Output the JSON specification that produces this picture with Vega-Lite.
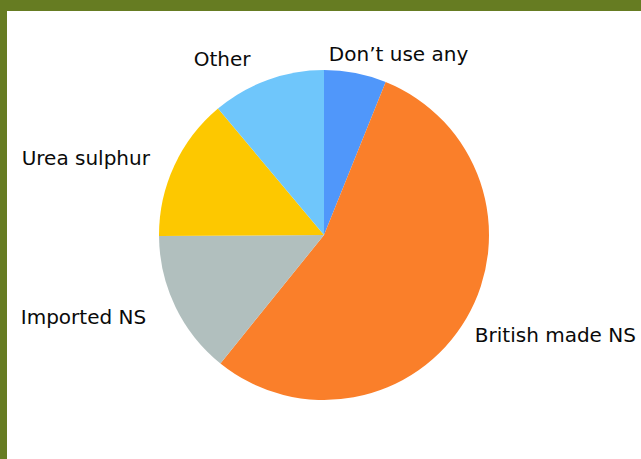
{
  "$schema": "https://vega.github.io/schema/vega-lite/v6.json",
  "width": 641,
  "height": 459,
  "autosize": {"type": "fit", "contains": "padding"},
  "padding": {"top": 11, "left": 7, "right": 0, "bottom": 0},
  "background": "#667c22",
  "config": {"view": {"stroke": null}},
  "layer": [
    {
      "data": {"values": [{"panel": "background"}]},
      "mark": {"type": "rect", "color": "white", "opacity": 1},
      "encoding": {}
    },
    {
      "data": {
        "values": [
          {"cat": "Don’t use any", "share": 6.1, "k": 1},
          {"cat": "British made NS", "share": 54.7, "k": 2},
          {"cat": "Imported NS", "share": 14.1, "k": 3},
          {"cat": "Urea sulphur", "share": 14.0, "k": 4},
          {"cat": "Other", "share": 11.1, "k": 5}
        ]
      },
      "encoding": {
        "theta": {"field": "share", "type": "quantitative", "stack": true},
        "order": {"field": "k", "type": "quantitative"}
      },
      "layer": [
        {
          "mark": {"type": "arc", "radius": 165},
          "encoding": {
            "color": {
              "field": "cat",
              "type": "nominal",
              "scale": {
                "domain": ["Don’t use any", "British made NS", "Imported NS", "Urea sulphur", "Other"],
                "range": ["#5097fa", "#fa7f2a", "#b1bfbe", "#fdc800", "#6fc6fb"]
              },
              "legend": null
            }
          }
        },
        {
          "mark": {"type": "text", "radius": 183, "align": "right", "baseline": "middle", "dx": -8, "dy": 1, "font": "DejaVu Sans", "fontSize": 20, "color": "#0a0a0a"},
          "encoding": {
            "detail": {"field": "cat", "type": "nominal"},
            "text": {"condition": {"test": "datum.cat === 'Urea sulphur'", "field": "cat"}, "value": ""}
          }
        },
        {
          "mark": {"type": "text", "radius": 183, "align": "right", "baseline": "middle", "dx": -13, "dy": 4, "font": "DejaVu Sans", "fontSize": 20, "color": "#0a0a0a"},
          "encoding": {
            "detail": {"field": "cat", "type": "nominal"},
            "text": {"condition": {"test": "datum.cat === 'Imported NS'", "field": "cat"}, "value": ""}
          }
        },
        {
          "mark": {"type": "text", "radius": 183, "align": "right", "baseline": "middle", "dx": -11, "dy": -3, "font": "DejaVu Sans", "fontSize": 20, "color": "#0a0a0a"},
          "encoding": {
            "detail": {"field": "cat", "type": "nominal"},
            "text": {"condition": {"test": "datum.cat === 'Other'", "field": "cat"}, "value": ""}
          }
        },
        {
          "mark": {"type": "text", "radius": 183, "align": "left", "baseline": "middle", "dx": -7, "dy": 8, "font": "DejaVu Sans", "fontSize": 20, "color": "#0a0a0a"},
          "encoding": {
            "detail": {"field": "cat", "type": "nominal"},
            "text": {"condition": {"test": "datum.cat === 'British made NS'", "field": "cat"}, "value": ""}
          }
        },
        {
          "mark": {"type": "text", "radius": 183, "align": "left", "baseline": "middle", "dx": -30, "dy": 0, "font": "DejaVu Sans", "fontSize": 20, "color": "#0a0a0a"},
          "encoding": {
            "detail": {"field": "cat", "type": "nominal"},
            "text": {"condition": {"test": "datum.cat === 'Don’t use any'", "field": "cat"}, "value": ""}
          }
        }
      ]
    }
  ]
}
